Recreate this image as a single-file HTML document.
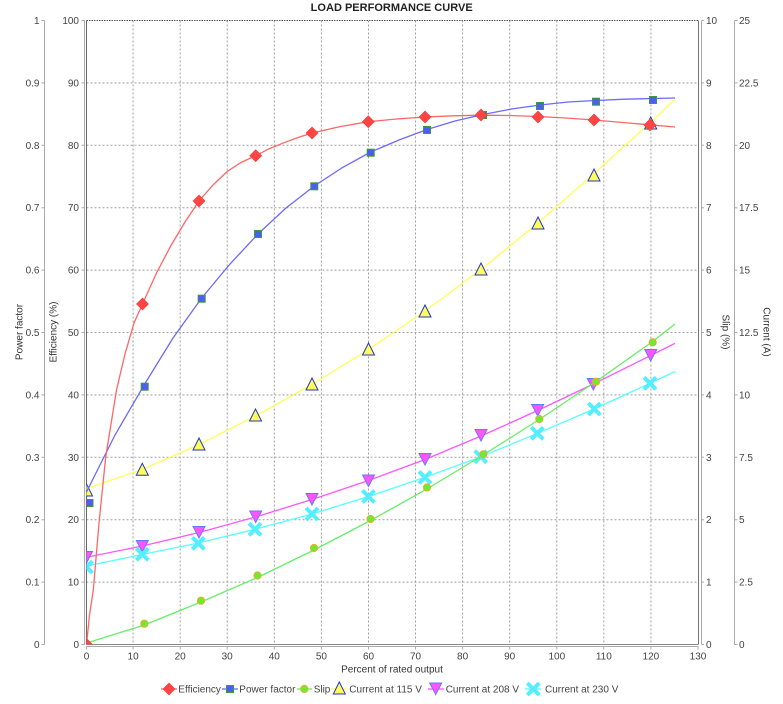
<!DOCTYPE html>
<html>
<head>
<meta charset="utf-8">
<style>
html,body{margin:0;padding:0;background:#fff;}
svg{display:block;}
text{font-family:"Liberation Sans","DejaVu Sans",sans-serif;}
</style>
</head>
<body>
<svg width="783" height="704" viewBox="0 0 783 704" xmlns="http://www.w3.org/2000/svg">
<defs>
  <clipPath id="plot"><rect x="86.5" y="20.5" width="612" height="624"/></clipPath>
  <path id="dia" d="M0,-6 L6,0 L0,6 L-6,0Z" fill="#ff4444" stroke="#f03a3a" stroke-width="0.6"/>
  <rect id="sq" x="-3.5" y="-3.5" width="7" height="7" fill="#4d5cf5" stroke="#3c9a3c" stroke-width="1"/>
  <circle id="ci" r="3.6" fill="#66ee33" stroke="#f5a623" stroke-width="1"/>
  <path id="tu" d="M0,-6 L6,6 L-6,6Z" fill="#ffff55" stroke="#2233cc" stroke-width="1"/>
  <path id="td" d="M0,6 L6,-5.5 L-6,-5.5Z" fill="#ff55ff" stroke="#6677ff" stroke-width="1"/>
  <path id="xx" d="M-6,-6 L6,6 M-6,6 L6,-6" stroke="#55eeff" stroke-width="4" fill="none"/>
</defs>

<rect width="783" height="704" fill="#fff"/>

<!-- Title -->
<text x="391.7" y="11" text-anchor="middle" font-size="11" font-weight="bold" fill="#222" textLength="162" lengthAdjust="spacingAndGlyphs">LOAD PERFORMANCE CURVE</text>

<!-- Grid -->
<g stroke="#a0a0a0" stroke-width="1" stroke-dasharray="2,2" fill="none">
  <line x1="86.5" y1="582.1" x2="698.5" y2="582.1"/>
  <line x1="86.5" y1="519.7" x2="698.5" y2="519.7"/>
  <line x1="86.5" y1="457.3" x2="698.5" y2="457.3"/>
  <line x1="86.5" y1="394.9" x2="698.5" y2="394.9"/>
  <line x1="86.5" y1="332.5" x2="698.5" y2="332.5"/>
  <line x1="86.5" y1="270.1" x2="698.5" y2="270.1"/>
  <line x1="86.5" y1="207.7" x2="698.5" y2="207.7"/>
  <line x1="86.5" y1="145.3" x2="698.5" y2="145.3"/>
  <line x1="86.5" y1="82.9" x2="698.5" y2="82.9"/>
  <line x1="133.1" y1="20.5" x2="133.1" y2="644.5"/>
  <line x1="180.2" y1="20.5" x2="180.2" y2="644.5"/>
  <line x1="227.2" y1="20.5" x2="227.2" y2="644.5"/>
  <line x1="274.3" y1="20.5" x2="274.3" y2="644.5"/>
  <line x1="321.4" y1="20.5" x2="321.4" y2="644.5"/>
  <line x1="368.5" y1="20.5" x2="368.5" y2="644.5"/>
  <line x1="415.5" y1="20.5" x2="415.5" y2="644.5"/>
  <line x1="462.6" y1="20.5" x2="462.6" y2="644.5"/>
  <line x1="509.7" y1="20.5" x2="509.7" y2="644.5"/>
  <line x1="556.8" y1="20.5" x2="556.8" y2="644.5"/>
  <line x1="603.8" y1="20.5" x2="603.8" y2="644.5"/>
  <line x1="650.9" y1="20.5" x2="650.9" y2="644.5"/>
</g>

<!-- Plot border -->
<line x1="86.5" y1="20.5" x2="698.5" y2="20.5" stroke="#555" stroke-width="1" stroke-dasharray="1.5,1"/>
<line x1="86.5" y1="20.5" x2="86.5" y2="644.5" stroke="#666" stroke-width="1"/>
<line x1="698.5" y1="20.5" x2="698.5" y2="644.5" stroke="#777" stroke-width="1"/>
<line x1="86.5" y1="644.5" x2="698.5" y2="644.5" stroke="#888" stroke-width="1"/>

<!-- Axis lines -->
<g stroke="#aaa" stroke-width="1" fill="none">
  <line x1="44.5" y1="20.5" x2="44.5" y2="644.5"/>
  <line x1="84.5" y1="20.5" x2="84.5" y2="644.5"/>
  <line x1="701.5" y1="20.5" x2="701.5" y2="644.5"/>
  <line x1="734.5" y1="20.5" x2="734.5" y2="644.5"/>
  <line x1="86.5" y1="646.5" x2="698.5" y2="646.5"/>
</g>
<!-- Axis ticks -->
<g stroke="#aaa" stroke-width="1">
  <path d="M41.5,20.5H44.5M41.5,82.9H44.5M41.5,145.3H44.5M41.5,207.7H44.5M41.5,270.1H44.5M41.5,332.5H44.5M41.5,394.9H44.5M41.5,457.3H44.5M41.5,519.7H44.5M41.5,582.1H44.5M41.5,644.5H44.5"/>
  <path d="M81.5,20.5H84.5M81.5,82.9H84.5M81.5,145.3H84.5M81.5,207.7H84.5M81.5,270.1H84.5M81.5,332.5H84.5M81.5,394.9H84.5M81.5,457.3H84.5M81.5,519.7H84.5M81.5,582.1H84.5M81.5,644.5H84.5"/>
  <path d="M701.5,20.5H704M701.5,82.9H704M701.5,145.3H704M701.5,207.7H704M701.5,270.1H704M701.5,332.5H704M701.5,394.9H704M701.5,457.3H704M701.5,519.7H704M701.5,582.1H704M701.5,644.5H704"/>
  <path d="M734.5,20.5H737.5M734.5,82.9H737.5M734.5,145.3H737.5M734.5,207.7H737.5M734.5,270.1H737.5M734.5,332.5H737.5M734.5,394.9H737.5M734.5,457.3H737.5M734.5,519.7H737.5M734.5,582.1H737.5M734.5,644.5H737.5"/>
  <path d="M86.5,646.5V649.5M133.1,646.5V649.5M180.2,646.5V649.5M227.2,646.5V649.5M274.3,646.5V649.5M321.4,646.5V649.5M368.5,646.5V649.5M415.5,646.5V649.5M462.6,646.5V649.5M509.7,646.5V649.5M556.8,646.5V649.5M603.8,646.5V649.5M650.9,646.5V649.5M698,646.5V649.5"/>
</g>

<!-- Power factor labels -->
<g font-size="10" fill="#444" text-anchor="end">
  <text x="39.5" y="24">1</text>
  <text x="39.5" y="86.4">0.9</text>
  <text x="39.5" y="148.8">0.8</text>
  <text x="39.5" y="211.2">0.7</text>
  <text x="39.5" y="273.6">0.6</text>
  <text x="39.5" y="336">0.5</text>
  <text x="39.5" y="398.4">0.4</text>
  <text x="39.5" y="460.8">0.3</text>
  <text x="39.5" y="523.2">0.2</text>
  <text x="39.5" y="585.6">0.1</text>
  <text x="39.5" y="648">0</text>
</g>
<!-- Efficiency labels -->
<g font-size="10" fill="#444" text-anchor="end">
  <text x="79" y="24">100</text>
  <text x="79" y="86.4">90</text>
  <text x="79" y="148.8">80</text>
  <text x="79" y="211.2">70</text>
  <text x="79" y="273.6">60</text>
  <text x="79" y="336">50</text>
  <text x="79" y="398.4">40</text>
  <text x="79" y="460.8">30</text>
  <text x="79" y="523.2">20</text>
  <text x="79" y="585.6">10</text>
  <text x="79" y="648">0</text>
</g>
<!-- Slip labels -->
<g font-size="10" fill="#444">
  <text x="706" y="24">10</text>
  <text x="706" y="86.4">9</text>
  <text x="706" y="148.8">8</text>
  <text x="706" y="211.2">7</text>
  <text x="706" y="273.6">6</text>
  <text x="706" y="336">5</text>
  <text x="706" y="398.4">4</text>
  <text x="706" y="460.8">3</text>
  <text x="706" y="523.2">2</text>
  <text x="706" y="585.6">1</text>
  <text x="706" y="648">0</text>
</g>
<!-- Current labels -->
<g font-size="10" fill="#444">
  <text x="739" y="24">25</text>
  <text x="739" y="86.4">22.5</text>
  <text x="739" y="148.8">20</text>
  <text x="739" y="211.2">17.5</text>
  <text x="739" y="273.6">15</text>
  <text x="739" y="336">12.5</text>
  <text x="739" y="398.4">10</text>
  <text x="739" y="460.8">7.5</text>
  <text x="739" y="523.2">5</text>
  <text x="739" y="585.6">2.5</text>
  <text x="739" y="648">0</text>
</g>
<!-- X labels -->
<g font-size="10" fill="#444" text-anchor="middle">
  <text x="86.5" y="659.5">0</text>
  <text x="133.1" y="659.5">10</text>
  <text x="180.2" y="659.5">20</text>
  <text x="227.2" y="659.5">30</text>
  <text x="274.3" y="659.5">40</text>
  <text x="321.4" y="659.5">50</text>
  <text x="368.5" y="659.5">60</text>
  <text x="415.5" y="659.5">70</text>
  <text x="462.6" y="659.5">80</text>
  <text x="509.7" y="659.5">90</text>
  <text x="556.8" y="659.5">100</text>
  <text x="603.8" y="659.5">110</text>
  <text x="650.9" y="659.5">120</text>
  <text x="698" y="659.5">130</text>
</g>

<!-- Axis titles -->
<g font-size="10" fill="#333" text-anchor="middle">
  <text x="392" y="672.5">Percent of rated output</text>
  <text transform="translate(22.5,332) rotate(-90)">Power factor</text>
  <text transform="translate(56.5,332) rotate(-90)">Efficiency (%)</text>
  <text transform="translate(722.5,332) rotate(90)">Slip (%)</text>
  <text transform="translate(763.5,332) rotate(90)">Current (A)</text>
</g>

<!-- Series -->
<g clip-path="url(#plot)">
  <!-- Current at 115 V -->
  <polyline fill="none" stroke="#ffff55" stroke-width="1.3" points="86.5,488.5 142.3,469.5 199,444.5 255.5,416 312,384.5 368.5,349.5 425,311 481,269.5 538,223 594,173.5 651,122 675,99.3"/>
  <!-- Current at 208 V -->
  <polyline fill="none" stroke="#ff55ff" stroke-width="1.3" points="86.5,557.3 142.3,546 199,532.5 255.5,517 312,499.5 368.5,480.5 425,459.5 481,436 537.7,410.5 593.3,384 650.7,355.5 675,343.3"/>
  <!-- Current at 230 V -->
  <polyline fill="none" stroke="#55ffff" stroke-width="1.3" points="86.5,566 142.3,554.5 198.3,543 255,529.3 312,514 368.5,496.5 425,477.3 481,456.7 537.5,433.3 594,409 650,383.3 675,371.5"/>

  <use href="#tu" x="86.5" y="490"/>
  <use href="#tu" x="142.3" y="469.3"/>
  <use href="#tu" x="199" y="444"/>
  <use href="#tu" x="255.5" y="415"/>
  <use href="#tu" x="312" y="384"/>
  <use href="#tu" x="368.5" y="349"/>
  <use href="#tu" x="425" y="311"/>
  <use href="#tu" x="481" y="269"/>
  <use href="#tu" x="538" y="223"/>
  <use href="#tu" x="594" y="175"/>
  <use href="#tu" x="650.7" y="123"/>

  <use href="#td" x="86.5" y="557"/>
  <use href="#td" x="142.3" y="546"/>
  <use href="#td" x="199" y="532"/>
  <use href="#td" x="255.7" y="516.5"/>
  <use href="#td" x="312" y="499"/>
  <use href="#td" x="368.5" y="480.5"/>
  <use href="#td" x="425" y="459"/>
  <use href="#td" x="481" y="435"/>
  <use href="#td" x="537.7" y="410"/>
  <use href="#td" x="593.3" y="384"/>
  <use href="#td" x="650.7" y="355"/>

  <use href="#xx" x="86.5" y="567"/>
  <use href="#xx" x="142.3" y="554.3"/>
  <use href="#xx" x="198.3" y="543.3"/>
  <use href="#xx" x="255" y="529.3"/>
  <use href="#xx" x="312" y="514"/>
  <use href="#xx" x="368.5" y="496.5"/>
  <use href="#xx" x="425" y="477.5"/>
  <use href="#xx" x="480.7" y="456.7"/>
  <use href="#xx" x="537.3" y="433.3"/>
  <use href="#xx" x="594.3" y="409"/>
  <use href="#xx" x="650" y="383.3"/>

  <!-- Slip -->
  <polyline fill="none" stroke="#66ee66" stroke-width="1.3" points="86.5,643 144.3,625 201,602 257.5,577.5 314,550 370.5,520.5 427,489 483,455 539.3,419.5 596,381.5 652.7,341.5 675,324"/>
  <use href="#ci" x="144.3" y="623.7"/>
  <use href="#ci" x="201" y="600.7"/>
  <use href="#ci" x="257.5" y="575.5"/>
  <use href="#ci" x="314" y="548"/>
  <use href="#ci" x="370.5" y="519"/>
  <use href="#ci" x="427" y="487.5"/>
  <use href="#ci" x="483.3" y="454.3"/>
  <use href="#ci" x="539.3" y="419"/>
  <use href="#ci" x="596" y="381.7"/>
  <use href="#ci" x="652.7" y="342.3"/>

  <!-- Power factor -->
  <polyline fill="none" stroke="#6a6aff" stroke-width="1.3" points="86.5,492 115,435 144.7,384 173,338 201.7,298 230,264 258,234 286,208 314.3,186 342.5,167.5 370.7,152 399,140 427,129.5 455,121 483,114.5 511.5,109 540,105 568,102 596,100.5 624.5,99.2 653,98.5 675,98"/>
  <use href="#sq" x="89.5" y="503"/>
  <use href="#sq" x="144.7" y="386.7"/>
  <use href="#sq" x="201.7" y="298.7"/>
  <use href="#sq" x="258" y="234"/>
  <use href="#sq" x="314.3" y="186.3"/>
  <use href="#sq" x="370.7" y="152.7"/>
  <use href="#sq" x="427" y="130"/>
  <use href="#sq" x="483" y="115"/>
  <use href="#sq" x="540" y="106"/>
  <use href="#sq" x="596" y="101.7"/>
  <use href="#sq" x="653" y="100"/>

  <!-- Efficiency -->
  <polyline fill="none" stroke="#ff6666" stroke-width="1.3" points="86.5,644.5 89.5,615 93.3,590 99,523 105.7,457 116.5,390 125,354 134,323 142.5,304 156.5,273 170.7,246 185,222 199,201 213,185 227.2,171.5 241,162.5 255.7,155.7 269.5,148.6 283.7,142.8 298,137.5 312,133 340.2,126.6 368.3,121.7 396.5,119 425,117 453,115.8 481,115.2 509.5,115.5 538,116.5 566,118 594,120 622.5,122.5 650,124.8 675,127"/>
  <use href="#dia" x="86.5" y="644.5"/>
  <use href="#dia" x="142.5" y="304"/>
  <use href="#dia" x="199" y="201"/>
  <use href="#dia" x="255.7" y="155.7"/>
  <use href="#dia" x="312" y="133"/>
  <use href="#dia" x="368.3" y="121.7"/>
  <use href="#dia" x="425" y="117"/>
  <use href="#dia" x="481" y="115"/>
  <use href="#dia" x="538" y="117"/>
  <use href="#dia" x="594" y="120"/>
  <use href="#dia" x="650" y="125"/>
</g>

<!-- Legend -->
<g>
  <line x1="161" y1="689" x2="177" y2="689" stroke="#ff6666" stroke-width="1.3"/>
  <use href="#dia" x="169" y="689"/>
  <text x="178.3" y="692.5" font-size="10" fill="#444">Efficiency</text>

  <line x1="222" y1="689" x2="238" y2="689" stroke="#6a6aff" stroke-width="1.3"/>
  <use href="#sq" x="230" y="689"/>
  <text x="239.3" y="692.5" font-size="10" fill="#444">Power factor</text>

  <line x1="297" y1="689" x2="312" y2="689" stroke="#66ee66" stroke-width="1.3"/>
  <use href="#ci" x="304.3" y="689"/>
  <text x="313.7" y="692.5" font-size="10" fill="#444">Slip</text>

  <line x1="331" y1="689" x2="347" y2="689" stroke="#ffff55" stroke-width="1.3"/>
  <use href="#tu" x="339.3" y="688"/>
  <text x="349.3" y="692.5" font-size="10" fill="#444">Current at 115 V</text>

  <line x1="428" y1="689" x2="444" y2="689" stroke="#ff55ff" stroke-width="1.3"/>
  <use href="#td" x="435.7" y="688.5"/>
  <text x="445.7" y="692.5" font-size="10" fill="#444">Current at 208 V</text>

  <line x1="525" y1="689" x2="541" y2="689" stroke="#55ffff" stroke-width="1.3"/>
  <use href="#xx" x="533.3" y="689"/>
  <text x="545" y="692.5" font-size="10" fill="#444">Current at 230 V</text>
</g>
</svg>
</body>
</html>
